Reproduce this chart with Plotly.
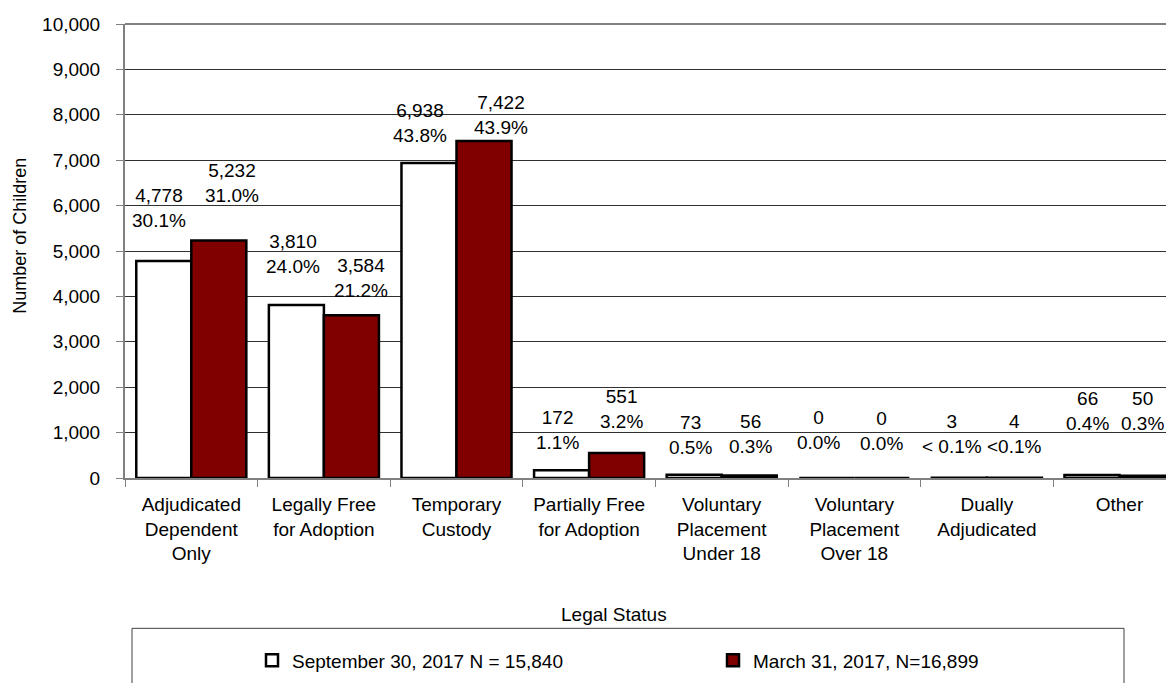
import plotly.graph_objects as go

categories = ["Adjudicated<br>Dependent<br>Only", "Legally Free<br>for Adoption", "Temporary<br>Custody",
              "Partially Free<br>for Adoption", "Voluntary<br>Placement<br>Under 18",
              "Voluntary<br>Placement<br>Over 18", "Dually<br>Adjudicated", "Other"]
sep_values = [4778, 3810, 6938, 172, 73, 0, 3, 66]
mar_values = [5232, 3584, 7422, 551, 56, 0, 4, 50]
sep_pct = ["30.1%", "24.0%", "43.8%", "1.1%", "0.5%", "0.0%", "< 0.1%", "0.4%"]
mar_pct = ["31.0%", "21.2%", "43.9%", "3.2%", "0.3%", "0.0%", "<0.1%", "0.3%"]
sep_name = "September 30, 2017 N = 15,840"
mar_name = "March 31, 2017, N=16,899"
y_ticks = list(range(0, 10001, 1000))

# label placement (pixel offsets from category centre / bar top), styling only
sep_dx = [-32, -31, -37, -32, -31, -36, -35, -32]
mar_dx = [41, 37, 44, 32, 29, 27, 28, 23]
sep_dy = [53, 51, 40, 40, 40, 48, 44, 64]
mar_dy = [57, 37, 26, 44, 41, 47, 44, 65]

FONT = "Liberation Sans, Arial, sans-serif"
FS = 19

OFF = 8  # page body margin
W, H = 1174 - OFF, 683 - OFF
L = 125 - OFF
T = 24 - OFF
BOTTOM_Y = 478.5 - OFF
B = H - BOTTOM_Y
plot_w = W - L
plot_h = BOTTOM_Y - T

fig = go.Figure()
fig.add_trace(go.Bar(x=categories, y=sep_values, name=sep_name,
                     marker=dict(color="white", line=dict(color="black", width=2.5))))
fig.add_trace(go.Bar(x=categories, y=mar_values, name=mar_name,
                     marker=dict(color="#800000", line=dict(color="black", width=2.5))))

anns = []
for i, c in enumerate(categories):
    anns.append(dict(x=c, y=sep_values[i], xref="x", yref="y", showarrow=False,
                     text=f"{sep_values[i]:,}<br>{sep_pct[i]}", xshift=sep_dx[i], yshift=sep_dy[i],
                     yanchor="middle", xanchor="center", font=dict(family=FONT, size=FS, color="black")))
    anns.append(dict(x=c, y=mar_values[i], xref="x", yref="y", showarrow=False,
                     text=f"{mar_values[i]:,}<br>{mar_pct[i]}", xshift=mar_dx[i], yshift=mar_dy[i],
                     yanchor="middle", xanchor="center", font=dict(family=FONT, size=FS, color="black")))


def px_x(p):
    """screen x (reference pixels) -> paper fraction"""
    return (p - OFF - L) / plot_w


def px_y(p):
    """screen y (reference pixels) -> paper fraction"""
    return (BOTTOM_Y - (p - OFF)) / plot_h


anns.append(dict(x=px_x(20), y=px_y(236), xref="paper", yref="paper", showarrow=False,
                 text="Number of Children", textangle=-90, xanchor="center", yanchor="middle",
                 font=dict(family=FONT, size=18, color="black")))
anns.append(dict(x=px_x(614), y=px_y(615), xref="paper", yref="paper", showarrow=False,
                 text="Legal Status", xanchor="center", yanchor="middle",
                 font=dict(family=FONT, size=FS, color="black")))

cat_w = 132.6
x_max = -0.5 + plot_w / cat_w

shapes = [
    dict(type="line", xref="paper", yref="paper", x0=0, x1=1, y0=1, y1=1,
         line=dict(color="#808080", width=2)),
    dict(type="rect", xref="paper", yref="paper", x0=px_x(132), x1=px_x(1124),
         y0=px_y(720), y1=px_y(629), line=dict(color="#404040", width=1), fillcolor="rgba(0,0,0,0)"),
]

fig.update_layout(
    width=W, height=H, autosize=False,
    margin=dict(l=L, r=0, t=T, b=B, pad=0, autoexpand=False),
    paper_bgcolor="white", plot_bgcolor="white",
    barmode="group", bargap=0.17, bargroupgap=0,
    font=dict(family=FONT, size=FS, color="black"),
    annotations=anns, shapes=shapes,
    legend=dict(orientation="h", x=px_x(252), xanchor="left", y=px_y(661), yanchor="middle",
                bgcolor="rgba(0,0,0,0)", borderwidth=0, entrywidth=416, entrywidthmode="pixels",
                font=dict(family=FONT, size=FS, color="black"), itemwidth=30),
    xaxis=dict(range=[-0.5, x_max], showgrid=False, showline=True, linecolor="#808080", linewidth=2,
               ticks="outside", tickson="boundaries", ticklen=7, tickcolor="#808080", tickwidth=1,
               tickfont=dict(family=FONT, size=FS, color="black"), fixedrange=True, zeroline=False,
               ticklabelstandoff=8),
    yaxis=dict(range=[0, 10000], tickvals=y_ticks, tickformat=",d", showgrid=True,
               gridcolor="#303030", gridwidth=1, showline=True, linecolor="#808080", linewidth=2,
               ticks="outside", ticklen=7, tickcolor="#808080", tickwidth=1, zeroline=False,
               tickfont=dict(family=FONT, size=FS, color="black"), ticklabelstandoff=12),
)

fig.write_html("out.html")
